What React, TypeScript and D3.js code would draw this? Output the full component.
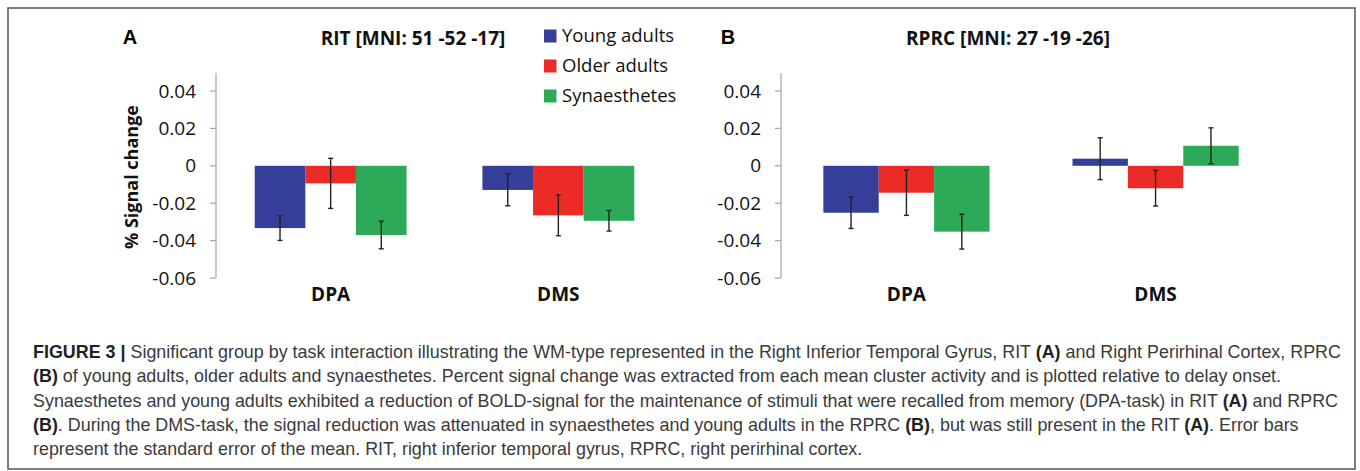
import React from 'react';
import * as d3 from 'd3';

const groups = ['Young adults', 'Older adults', 'Synaesthetes'];
const groupColors = ['#353f9a', '#ec2b27', '#2daa57'];
const tasks = ['DPA', 'DMS'];
const yTicks = [0.04, 0.02, 0, -0.02, -0.04, -0.06];

// RIT panel (A)
const ritDpa = [-0.0333, -0.0094, -0.037];
const ritDms = [-0.0129, -0.0265, -0.0294];
const ritDpaSe = [0.0066, 0.0134, 0.0074];
const ritDmsSe = [0.0085, 0.0109, 0.0055];

// RPRC panel (B)
const rprcDpa = [-0.0251, -0.0144, -0.0352];
const rprcDms = [0.0038, -0.012, 0.0107];
const rprcDpaSe = [0.0084, 0.0121, 0.0093];
const rprcDmsSe = [0.0112, 0.0095, 0.0096];

const captionLines = [
  [['FIGURE 3 | ', true], ['Significant group by task interaction illustrating the WM-type represented in the Right Inferior Temporal Gyrus, RIT ', false], ['(A)', true], [' and Right Perirhinal Cortex, RPRC', false]],
  [['(B)', true], [' of young adults, older adults and synaesthetes. Percent signal change was extracted from each mean cluster activity and is plotted relative to delay onset.', false]],
  [['Synaesthetes and young adults exhibited a reduction of BOLD-signal for the maintenance of stimuli that were recalled from memory (DPA-task) in RIT ', false], ['(A)', true], [' and RPRC', false]],
  [['(B)', true], ['. During the DMS-task, the signal reduction was attenuated in synaesthetes and young adults in the RPRC ', false], ['(B)', true], [', but was still present in the RIT ', false], ['(A)', true], ['. Error bars', false]],
  [['represent the standard error of the mean. RIT, right inferior temporal gyrus, RPRC, right perirhinal cortex.', false]],
];

const chartFont = '"Open Sans", sans-serif';
const y = d3.scaleLinear().domain([-0.06, 0.04]).range([278, 91]);
const fmt = (d) => (d === 0 ? '0' : d.toFixed(2));

function Panel({ letter, letterX, title, titleX, axisX, rangeEnd, means, errs }) {
  const x0 = d3.scaleBand().domain(tasks).range([axisX, rangeEnd]).paddingInner(0.333).paddingOuter(0.17);
  const x1 = d3.scaleBand().domain(groups).range([0, x0.bandwidth()]);
  return (
    <g>
      <text x={letterX} y={44} fontFamily="Liberation Sans, Arial, sans-serif" fontWeight="bold" fontSize={20} textAnchor="middle">{letter}</text>
      <text x={titleX} y={45} fontFamily={chartFont} fontWeight="bold" fontSize={19} textAnchor="middle" fill="#111">{title}</text>
      <line x1={axisX} x2={axisX} y1={73} y2={y(-0.06)} stroke="#a6a6a6" strokeWidth={1.2} />
      {yTicks.map((t) => (
        <g key={t}>
          <line x1={axisX - 6} x2={axisX} y1={y(t)} y2={y(t)} stroke="#a6a6a6" strokeWidth={1.2} />
          <text x={axisX - 20} y={y(t)} dy="0.35em" textAnchor="end" fontFamily={chartFont} fontSize={19} fill="#111">{fmt(t)}</text>
        </g>
      ))}
      {tasks.map((task, ti) => (
        <g key={task} transform={`translate(${x0(task)},0)`}>
          {groups.map((g, gi) => {
            const v = means[ti][gi];
            const e = errs[ti][gi];
            const cx = x1(g) + x1.bandwidth() / 2;
            return (
              <g key={g}>
                <rect x={x1(g)} width={x1.bandwidth()} y={Math.min(y(v), y(0))} height={Math.abs(y(v) - y(0))} fill={groupColors[gi]} />
                <line x1={cx} x2={cx} y1={y(v + e)} y2={y(v - e)} stroke="#222" strokeWidth={1.4} />
                <line x1={cx - 2.5} x2={cx + 2.5} y1={y(v + e)} y2={y(v + e)} stroke="#222" strokeWidth={1.4} />
                <line x1={cx - 2.5} x2={cx + 2.5} y1={y(v - e)} y2={y(v - e)} stroke="#222" strokeWidth={1.4} />
              </g>
            );
          })}
          <text x={x0.bandwidth() / 2} y={301} textAnchor="middle" fontFamily={chartFont} fontWeight="bold" fontSize={19} fill="#111">{task}</text>
        </g>
      ))}
    </g>
  );
}

export default function App() {
  return (
    <div>
      <style>{'body{margin:0}'}</style>
      <svg width={1360} height={471}>
        <rect x={0} y={0} width={1360} height={471} fill="#fff" />
        <rect x={8} y={8} width={1347} height={461} fill="none" stroke="#555" strokeWidth={1.5} />
        <text transform="translate(138,177) rotate(-90)" textAnchor="middle" fontFamily={chartFont} fontWeight="bold" fontSize={18} fill="#111">% Signal change</text>
        <Panel letter="A" letterX={130} title="RIT [MNI: 51 -52 -17]" titleX={413} axisX={216} rangeEnd={673} means={[ritDpa, ritDms]} errs={[ritDpaSe, ritDmsSe]} />
        <Panel letter="B" letterX={728} title="RPRC [MNI: 27 -19 -26]" titleX={1008} axisX={781} rangeEnd={1281} means={[rprcDpa, rprcDms]} errs={[rprcDpaSe, rprcDmsSe]} />
        {groups.map((g, i) => (
          <g key={g} transform={`translate(544,${36 + i * 30})`}>
            <rect x={0} y={-6.5} width={12.5} height={13} fill={groupColors[i]} />
            <text x={18} y={0} dy="0.35em" fontFamily={chartFont} fontSize={18.5} fill="#111">{g}</text>
          </g>
        ))}
        {captionLines.map((line, i) => (
          <text key={i} x={33} y={358 + i * 24.3} fontFamily="Liberation Sans, Arial, sans-serif" fontSize={17.9} fill="#3a3a3a">
            {line.map(([s, b], j) => (
              <tspan key={j} fontWeight={b ? 'bold' : 'normal'} fill={b ? '#222' : '#3a3a3a'}>{s}</tspan>
            ))}
          </text>
        ))}
      </svg>
    </div>
  );
}
